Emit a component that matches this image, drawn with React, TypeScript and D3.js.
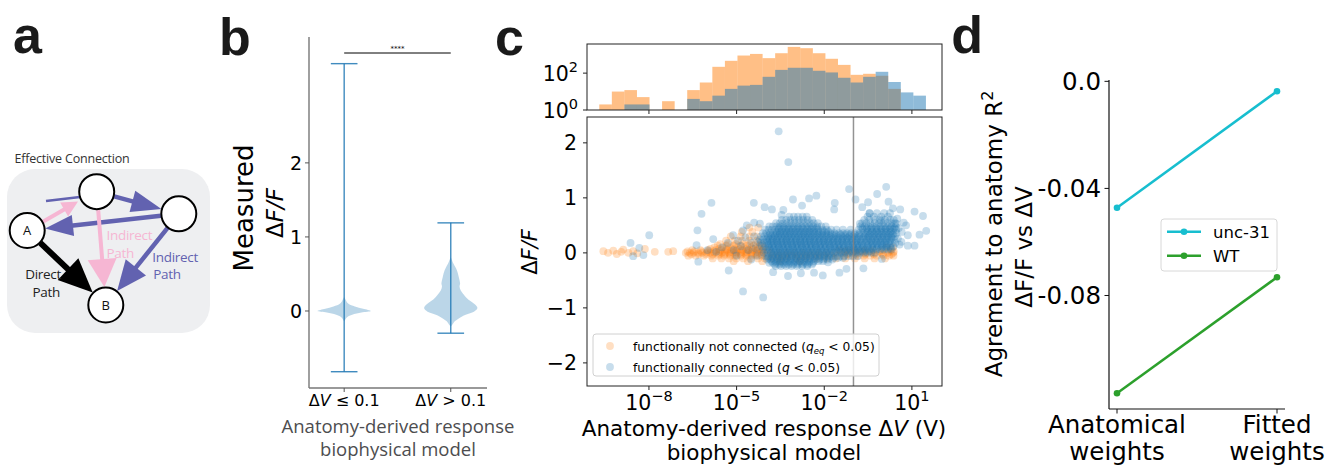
import React from 'react';
import * as d3 from 'd3';

const MPL = '"DejaVu Sans", sans-serif';
const ILL = '"Open Sans", "Noto Sans", sans-serif';
const C0 = '#1f77b4';
const C1 = '#ff7f0e';

// ---------- panel b: violin profiles (dF/F value, relative half width) ----------
const lowDff = [-0.14, -0.11, -0.08, -0.05, -0.02, 0, 0.03, 0.06, 0.1, 0.15, 0.19];
const lowWidth = [0, 0.05, 0.12, 0.3, 0.65, 1.0, 0.71, 0.4, 0.15, 0.06, 0];
const highDff = [-0.21, -0.19, -0.14, -0.1, -0.05, -0.01, 0.04, 0.09, 0.13, 0.19, 0.28, 0.33, 0.37, 0.46, 0.55, 0.64, 0.73];
const highWidth = [0, 0.05, 0.15, 0.3, 0.56, 0.87, 1.0, 0.9, 0.75, 0.56, 0.37, 0.33, 0.35, 0.3, 0.23, 0.1, 0];
const violinMin = [-0.82, -0.3];
const violinMax = [3.34, 1.19];
const violinTicks = [0, 1, 2];

// ---------- panel c: histogram (log10 bin edges, counts) ----------
const binEdgesExp = [-9.7, -9.27, -8.84, -8.41, -7.98, -7.55, -7.12, -6.69, -6.26, -5.83, -5.4, -4.97, -4.54, -4.11, -3.68, -3.25, -2.82, -2.39, -1.96, -1.53, -1.1, -0.67, -0.24, 0.19, 0.62, 1.05, 1.48];
const histNotConn = [2, 10, 12, 5, 0, 3, 0, 12, 31, 220, 465, 900, 1100, 650, 1200, 2650, 2250, 1200, 600, 280, 81, 92, 72, 14, 0, 0];
const histConn = [0, 0, 2, 2, 0, 0, 0, 4, 3, 6, 14, 21, 23, 63, 150, 195, 195, 134, 109, 56, 31, 63, 118, 33, 9, 6];
const histTicksExp = [0, 2];
const xTicksExp = [-8, -5, -2, 1];
const scatTicks = [-2, -1, 0, 1, 2];

// ---------- panel c: scatter, [log10 dV, dF/F] ----------
const notConnLeft: [number, number][] = [
  [-9.56, 0.03], [-9.4, 0.0], [-9.22, 0.04], [-9.1, -0.02], [-8.95, 0.02], [-8.88, 0.06], [-8.7, 0.0],
  [-8.54, 0.03], [-8.4, -0.01], [-8.14, 0.07], [-7.8, 0.02], [-7.34, 0.02], [-7.17, 0.03],
];
// rows: [dF/F, list of log10 dV]
const notConnRows: [number, number[]][] = [
  [0.0, [-6.74, -6.6, -6.47, -6.31, -6.18, -6.03, -5.9, -5.76, -5.63, -5.5, -5.38, -5.25, -5.12, -5.0, -4.87, -4.74, -4.62, -4.49, -4.36, -4.23, -4.08, -3.82, -3.55, -3.28, -3.02, -2.74, -2.47, -2.2, -1.93, -1.66, -1.4, -1.13, -0.86, -0.59, -0.32, -0.06, 0.18, 0.36]],
  [-0.05, [-6.65, -6.4, -6.12, -5.86, -5.62, -5.43, -5.22, -5.04, -4.85, -4.67, -4.5, -4.32, -4.14, -3.96, -3.76, -3.55, -3.34, -3.12, -2.9, -2.67, -2.45, -2.22, -2.0, -1.77, -1.55, -1.32, -1.1, -0.87, -0.65, -0.42, -0.2, 0.03, 0.22, 0.37]],
  [0.05, [-6.52, -6.24, -5.97, -5.72, -5.53, -5.34, -5.16, -4.98, -4.8, -4.62, -4.45, -4.28, -4.11, -3.93, -1.48, -1.19, -0.9, -0.61, -0.31, -0.02, 0.27]],
  [0.025, [-6.68, -6.45, -6.2, -5.98, -5.78, -5.58, -5.4, -5.2, -5.02, -4.84, -4.66, -4.48, -4.3, -4.12, -1.3, -1.0, -0.7, -0.4, -0.1, 0.2, 0.38]],
  [-0.025, [-6.55, -6.3, -6.05, -5.82, -5.6, -5.41, -5.22, -5.03, -4.85, -4.67, -4.49, -4.31, -4.13, -1.2, -0.9, -0.6, -0.3, 0.0, 0.3]],
  [-0.1, [-5.82, -5.52, -5.26, -5.01, -4.77, -4.52, -4.27, -4.03, -3.8, -3.54, -3.28, -2.94, -2.6, -2.26, -1.92, -1.6, -1.28, -0.95, -0.62, -0.28, 0.08]],
  [0.07, [-5.9, -5.6, -5.35, -5.1, -4.88, -4.66, -4.44, -4.22]],
  [0.1, [-5.76, -5.46, -5.21, -4.96, -4.72, -4.49, -4.27, -4.06, 0.14, 0.35]],
  [0.13, [-5.65, -5.35, -5.1, -4.87, -4.64, -4.42, -4.2]],
  [0.16, [-5.56, -5.29, -5.03, -4.79, -4.56, -4.34, -4.13]],
  [0.22, [-5.36, -5.06, -4.81, -4.56, -4.31]],
  [0.3, [-5.2, -4.86, -4.56, -4.3]],
  [0.38, [-4.82, -4.46]],
  [0.46, [-4.56, -4.26]],
  [-0.15, [-5.1, -4.61, -4.12, -3.52, -2.82]],
];
const connSparse: [number, number][] = [
  [-3.56, 2.21], [-3.23, 1.65], [-5.86, 0.91], [-6.2, 0.71], [-6.34, 0.41], [-7.99, 0.32], [-8.63, 0.18],
  [-8.54, -0.06], [-8.19, -0.04], [-8.33, 0.09], [-6.37, 0.14], [-6.31, -0.16], [-5.27, -0.32], [-4.78, -0.7],
  [-4.09, -0.81], [-4.41, 0.91], [-4.04, 0.83], [-3.79, 0.79], [-3.07, 0.97], [-2.76, 0.86], [-2.52, 0.99],
  [-2.27, 1.04], [-1.64, 0.91], [-1.66, 0.79], [-1.15, 1.16], [-0.93, 0.97], [-0.7, 0.83], [-0.5, 0.92],
  [-0.19, 1.07], [0.12, 1.2], [0.2, 0.93], [0.35, 0.81], [0.6, 0.79], [1.09, 0.75], [1.38, 0.67], [1.49, 0.4],
  [1.26, 0.33], [1.09, 0.13], [0.86, 0.13], [0.64, 0.2], [-0.03, -0.11], [-0.66, -0.28], [-1.24, -0.29],
  [-1.48, -0.36], [-2.05, -0.41], [-2.35, -0.36], [-2.8, -0.37], [-3.24, -0.42], [-3.75, -0.35], [-1.87, -0.17],
  [-3.4, 0.78], [-3.46, 0.69], [-4.2, 0.53], [-4.78, 0.41], [-5.12, 0.32], [-0.78, 0.53], [-0.45, 0.72],
  [-0.05, 0.59], [0.47, 0.53], [0.8, 0.5], [0.86, 0.32], [0.52, 0.26], [0.55, 0.45], [0.65, 0.38], [0.72, 0.55],
  [0.58, 0.15], [0.5, 0.62],
  [-5.5, 0.1], [-5.3, 0.18], [-5.1, 0.05], [-4.95, 0.22], [-4.85, 0.12], [-4.7, 0.28], [-4.6, 0.05], [-4.5, 0.18],
  [-4.4, 0.3], [-4.35, 0.08], [-4.28, -0.05], [-4.25, 0.2], [-5.7, 0.02], [-5.0, -0.05], [-4.5, -0.12],
  [-6.0, 0.05], [-5.8, 0.25], [-4.65, 0.5], [-4.4, 0.55],
];
const connRows: [number, number[]][] = [
  [0.72, [-0.45, -0.2, 0.05, 0.25]],
  [0.66, [-3.2, -3.04, -2.9, -2.74, -2.6, -0.52, -0.3, -0.05, 0.18]],
  [0.6, [-3.45, -3.3, -3.15, -3.01, -2.86, -2.72, -2.57, -2.41, -0.63, -0.46, -0.28, -0.1, 0.08, 0.26, 0.38]],
  [0.54, [-3.65, -3.52, -3.4, -3.27, -3.14, -3.01, -2.88, -2.75, -2.62, -2.49, -2.36, -2.22, -0.7, -0.56, -0.42, -0.27, -0.13, 0.02, 0.16, 0.3, 0.42]],
  [0.48, [-3.88, -3.76, -3.63, -3.51, -3.4, -3.27, -3.15, -3.02, -2.9, -2.77, -2.64, -2.51, -2.38, -2.24, -2.1, -1.95, -0.76, -0.62, -0.49, -0.36, -0.22, -0.09, 0.05, 0.18, 0.31, 0.44]],
  [0.42, [-4.02, -3.9, -3.78, -3.67, -3.55, -3.43, -3.31, -3.2, -3.08, -2.95, -2.83, -2.71, -2.58, -2.46, -2.33, -2.2, -2.06, -1.92, -1.76, -1.58, -1.36, -1.1, -0.82, -0.69, -0.56, -0.43, -0.3, -0.17, -0.04, 0.09, 0.22, 0.35, 0.46]],
  [0.36, [-4.1, -3.98, -3.86, -3.75, -3.63, -3.52, -3.4, -3.29, -3.17, -3.05, -2.93, -2.81, -2.69, -2.57, -2.45, -2.32, -2.19, -2.06, -1.93, -1.79, -1.65, -1.5, -1.35, -1.22, -1.08, -0.94, -0.8, -0.67, -0.54, -0.41, -0.28, -0.15, -0.02, 0.11, 0.24, 0.37, 0.47]],
  [0.3, [-4.16, -4.04, -3.92, -3.81, -3.7, -3.58, -3.47, -3.35, -3.24, -3.12, -3.01, -2.89, -2.77, -2.66, -2.54, -2.42, -2.3, -2.17, -2.05, -1.92, -1.79, -1.66, -1.53, -1.4, -1.27, -1.14, -1.01, -0.88, -0.75, -0.62, -0.49, -0.36, -0.23, -0.1, 0.03, 0.16, 0.29, 0.42]],
  [0.24, [-4.2, -4.08, -3.97, -3.86, -3.74, -3.63, -3.52, -3.4, -3.29, -3.18, -3.06, -2.95, -2.83, -2.72, -2.6, -2.49, -2.37, -2.25, -2.13, -2.01, -1.89, -1.77, -1.64, -1.52, -1.39, -1.27, -1.14, -1.02, -0.89, -0.77, -0.64, -0.51, -0.39, -0.26, -0.13, 0.0, 0.13, 0.26, 0.39]],
  [0.18, [-4.18, -4.06, -3.95, -3.83, -3.72, -3.61, -3.49, -3.38, -3.27, -3.15, -3.04, -2.92, -2.81, -2.69, -2.58, -2.46, -2.34, -2.22, -2.1, -1.98, -1.86, -1.73, -1.61, -1.48, -1.36, -1.23, -1.1, -0.97, -0.85, -0.72, -0.59, -0.46, -0.33, -0.2, -0.07, 0.06, 0.19, 0.32, 0.43]],
  [0.12, [-4.14, -4.02, -3.91, -3.79, -3.68, -3.56, -3.45, -3.33, -3.22, -3.1, -2.99, -2.87, -2.76, -2.64, -2.52, -2.41, -2.29, -2.17, -2.05, -1.93, -1.8, -1.68, -1.55, -1.43, -1.3, -1.17, -1.04, -0.92, -0.79, -0.66, -0.53, -0.4, -0.27, -0.14, -0.01, 0.12, 0.25, 0.37]],
  [0.06, [-4.1, -3.98, -3.87, -3.75, -3.64, -3.52, -3.41, -3.29, -3.18, -3.06, -2.95, -2.83, -2.71, -2.6, -2.48, -2.36, -2.24, -2.12, -2.0, -1.87, -1.75, -1.62, -1.5, -1.37, -1.24, -1.11, -0.98, -0.86, -0.73, -0.6, -0.47, -0.34, -0.21, -0.08, 0.05, 0.18, 0.3]],
  [0.0, [-4.06, -3.94, -3.83, -3.71, -3.6, -3.48, -3.37, -3.25, -3.14, -3.02, -2.91, -2.79, -2.67, -2.55, -2.43, -2.31, -2.19, -2.07, -1.94, -1.82, -1.69, -1.56, -1.43, -1.3, -1.17, -1.04, -0.91, -0.78, -0.65, -0.52, -0.39, -0.26]],
  [-0.06, [-4.02, -3.9, -3.79, -3.67, -3.56, -3.44, -3.33, -3.21, -3.1, -2.98, -2.86, -2.74, -2.62, -2.5, -2.38, -2.26, -2.13, -2.0, -1.87, -1.74, -1.61, -1.47, -1.33, -1.18, -1.02, -0.85]],
  [-0.12, [-3.96, -3.84, -3.73, -3.61, -3.5, -3.38, -3.27, -3.15, -3.03, -2.91, -2.79, -2.67, -2.55, -2.42, -2.29, -2.16, -2.02, -1.88, -1.72]],
  [-0.18, [-3.88, -3.76, -3.64, -3.52, -3.4, -3.28, -3.16, -3.04, -2.91, -2.78, -2.65, -2.52, -2.38]],
  [-0.24, [-3.66, -3.48, -3.3, -3.12, -2.94, -2.76, -2.58]],
  // denser core
  [0.45, [-3.55, -3.38, -3.22, -3.06, -2.9, -2.74, -2.58, -2.42, -2.26, -0.7, -0.54, -0.38, -0.22, -0.06, 0.1, 0.26, 0.4]],
  [0.39, [-3.62, -3.46, -3.3, -3.14, -2.98, -2.82, -2.66, -2.5, -2.34, -2.18, -2.02, -1.86, -0.52, -0.36, -0.2, -0.04, 0.12, 0.28]],
  [0.33, [-3.85, -3.68, -3.52, -3.36, -3.2, -3.04, -2.88, -2.72, -2.56, -2.4, -2.24, -2.08, -1.92, -1.76, -1.6, -1.44, -1.28, -1.12, -0.96, -0.8, -0.6, -0.44, -0.28, -0.12, 0.04, 0.2, 0.34]],
  [0.27, [-3.92, -3.76, -3.6, -3.44, -3.28, -3.12, -2.96, -2.8, -2.64, -2.48, -2.32, -2.16, -2.0, -1.84, -1.68, -1.52, -1.36, -1.2, -1.04, -0.88, -0.66, -0.5, -0.34, -0.18, -0.02, 0.14, 0.3]],
  [0.21, [-3.95, -3.79, -3.63, -3.47, -3.31, -3.15, -2.99, -2.83, -2.67, -2.51, -2.35, -2.19, -2.03, -1.87, -1.71, -1.55, -1.39, -1.23, -1.07, -0.91, -0.75, -0.56, -0.4, -0.24, -0.08, 0.08, 0.24]],
  [0.15, [-3.9, -3.74, -3.58, -3.42, -3.26, -3.1, -2.94, -2.78, -2.62, -2.46, -2.3, -2.14, -1.98, -1.82, -1.66, -1.5, -1.34, -1.18, -1.02, -0.86, -0.7, -0.5, -0.34, -0.18, -0.02, 0.14]],
  [0.09, [-3.88, -3.72, -3.56, -3.4, -3.24, -3.08, -2.92, -2.76, -2.6, -2.44, -2.28, -2.12, -1.96, -1.8, -1.64, -1.48, -1.32, -1.16, -1.0, -0.84, -0.68, -0.52, -0.36, -0.2, -0.04, 0.12, 0.28]],
  [0.03, [-3.82, -3.66, -3.5, -3.34, -3.18, -3.02, -2.86, -2.7, -2.54, -2.38, -2.22, -2.06, -1.9, -1.74, -1.58, -1.42, -1.26, -1.1, -0.94, -0.78, -0.62, -0.46]],
  [-0.03, [-3.75, -3.59, -3.43, -3.27, -3.11, -2.95, -2.79, -2.63, -2.47, -2.31, -2.15, -1.99, -1.83]],
  [-0.09, [-3.92, -3.76, -3.6, -3.44, -3.28, -3.12, -2.96, -2.8, -2.64, -2.48, -2.32, -2.16, -2.0, -1.84, -1.68, -1.52, -1.36]],
  [-0.15, [-3.8, -3.64, -3.48, -3.32, -3.16, -3.0, -2.84, -2.68, -2.52, -2.36, -2.2, -2.04]],
  [-0.21, [-3.7, -3.54, -3.38, -3.22, -3.06, -2.9, -2.74, -2.58, -2.42]],
];

// ---------- panel d ----------
const weightTypes = [['Anatomical', 'weights'], ['Fitted', 'weights']];
const unc31R2 = [-0.0472, -0.0037];
const wtR2 = [-0.1165, -0.0732];
const dTicks = [0, -0.04, -0.08];
const dTickLabels = ['0.0', '-0.04', '-0.08'];

type Pt = { dv: number; dff: number };
const fromPairs = (p: [number, number][]): Pt[] => p.map(([e, f]) => ({ dv: 10 ** e, dff: f }));
const fromRows = (rows: [number, number[]][]): Pt[] =>
  rows.flatMap(([f, es]) => es.map((e) => ({ dv: 10 ** e, dff: f })));

function Arrow({ x1, y1, x2, y2, w, hl, hw, color }: any) {
  const dx = x2 - x1, dy = y2 - y1, L = Math.hypot(dx, dy);
  const ux = dx / L, uy = dy / L;
  const bx = x2 - ux * hl, by = y2 - uy * hl;
  return (
    <g>
      <line x1={x1} y1={y1} x2={bx + ux * 2} y2={by + uy * 2} stroke={color} strokeWidth={w} />
      <polygon
        points={`${x2},${y2} ${bx - uy * hw / 2},${by + ux * hw / 2} ${bx + uy * hw / 2},${by - ux * hw / 2}`}
        fill={color}
      />
    </g>
  );
}

export default function App() {
  // panel b
  const xB = d3.scaleLinear().domain([-0.33, 1.34]).range([309, 487]);
  const yB = d3.scaleLinear().domain([-1.04, 3.7]).range([388, 37]);
  const violinPath = (dff: number[], wid: number[], i: number) =>
    d3.area<number>()
      .y((d) => yB(d))
      .x0((_, k) => xB(i - wid[k] * 0.25))
      .x1((_, k) => xB(i + wid[k] * 0.25))
      .curve(d3.curveCatmullRom)(dff) || '';

  // panel c
  const xC = d3.scaleLog().domain([10 ** -10.12, 10 ** 2.03]).range([587, 942]);
  const yH = d3.scaleLog().domain([1, 3800]).range([110, 44]);
  const yS = d3.scaleLinear().domain([-2.42, 2.47]).range([386, 117]);
  const orangePts = [...fromPairs(notConnLeft), ...fromRows(notConnRows)];
  const bluePts = [...fromPairs(connSparse), ...fromRows(connRows)];
  const bars = (counts: number[]) =>
    counts.map((c, i) => ({ c, x0: xC(10 ** binEdgesExp[i]), x1: xC(10 ** binEdgesExp[i + 1]) })).filter((b) => b.c > 0);

  // panel d
  const xD = d3.scaleLinear().domain([-0.05, 1.05]).range([1109, 1285]);
  const yD = d3.scaleLinear().domain([-0.1224, 0.0005]).range([409, 80]);
  const lineD = d3.line<number>().x((_, i) => xD(i)).y((d) => yD(d));

  const pink = '#f6b6d3';
  const purple = '#6262b0';

  return (
    <svg width={1336} height={471} style={{ position: 'absolute', left: 0, top: 0, background: '#fff' }}>
      {/* panel letters */}
      <g fontFamily='"Liberation Sans", Arial, sans-serif' fontWeight={900} fontSize={52} fill="#1a1a1a">
        <text x={13} y={53}>a</text>
        <text x={219} y={55}>b</text>
        <text x={495} y={55}>c</text>
        <text x={983} y={53} textAnchor="end">d</text>
      </g>

      {/* ---------- panel a ---------- */}
      <g fontFamily={ILL}>
        <text x={14.5} y={163} fontSize={12.5} fill="#333" letterSpacing={-0.2}>Effective Connection</text>
        <rect x={7} y={169} width={203} height={164} rx={28} fill="#eeeff1" />
        <Arrow x1={42.9} y1={221.7} x2={78} y2={201.5} w={4} hl={16} hw={16} color={pink} />
        <line x1={46} y1={201} x2={80} y2={197} stroke={purple} strokeWidth={2.5} />
        <Arrow x1={114.1} y1={196.4} x2={161.4} y2={209.1} w={4.5} hl={30} hw={22} color={purple} />
        <Arrow x1={160.9} y1={215.8} x2={45.1} y2={228.5} w={4.5} hl={28} hw={21} color={purple} />
        <Arrow x1={98.2} y1={210.1} x2={104.4} y2={287.1} w={4} hl={28} hw={29} color={pink} />
        <Arrow x1={167.6} y1={227.9} x2={117.1} y2={290.9} w={4.5} hl={30} hw={26} color={purple} />
        <Arrow x1={40.3} y1={242.9} x2={92.7} y2={292.6} w={6} hl={34} hw={30} color="#000" />
        {[[96.7, 191.7], [178.8, 213.8], [27.2, 230.5], [105.8, 305]].map(([cx, cy], i) => (
          <circle key={i} cx={cx} cy={cy} r={17.5} fill="#fff" stroke="#000" strokeWidth={2} />
        ))}
        <text x={27.2} y={235} fontSize={13} textAnchor="middle" fill="#111">A</text>
        <text x={105.8} y={309.5} fontSize={13} textAnchor="middle" fill="#111">B</text>
        <g fontSize={13.5} letterSpacing={-0.3}>
          <text x={106.5} y={240} fill={pink}>Indirect</text>
          <text x={106.5} y={258} fill={pink}>Path</text>
          <text x={152.3} y={261.5} fill={purple}>Indirect</text>
          <text x={153.3} y={278.5} fill={purple}>Path</text>
          <text x={61} y={279.3} fill="#222" textAnchor="end">Direct</text>
          <text x={60} y={296.7} fill="#222" textAnchor="end">Path</text>
        </g>
      </g>

      {/* ---------- panel b ---------- */}
      <g fontFamily={MPL}>
        {[lowDff, highDff].map((dff, i) => (
          <path key={i} d={violinPath(dff, i === 0 ? lowWidth : highWidth, i)} fill={C0} fillOpacity={0.3} />
        ))}
        {violinMin.map((mn, i) => (
          <g key={i} stroke={C0} strokeWidth={1.4} strokeOpacity={0.85}>
            <line x1={xB(i)} x2={xB(i)} y1={yB(mn)} y2={yB(violinMax[i])} />
            <line x1={xB(i - 0.125)} x2={xB(i + 0.125)} y1={yB(mn)} y2={yB(mn)} />
            <line x1={xB(i - 0.125)} x2={xB(i + 0.125)} y1={yB(violinMax[i])} y2={yB(violinMax[i])} />
          </g>
        ))}
        <line x1={309} x2={309} y1={37} y2={388} stroke="#777" strokeWidth={1.4} />
        <line x1={309} x2={487} y1={388} y2={388} stroke="#777" strokeWidth={1.4} />
        {violinTicks.map((t) => (
          <g key={t}>
            <line x1={305} x2={309} y1={yB(t)} y2={yB(t)} stroke="#555" />
            <text x={302} y={yB(t) + 7} fontSize={19} textAnchor="end">{t}</text>
          </g>
        ))}
        {[0, 1].map((i) => (
          <line key={i} x1={xB(i)} x2={xB(i)} y1={388} y2={392} stroke="#555" />
        ))}
        <text x={xB(0)} y={406} fontSize={16} textAnchor="middle">
          Δ<tspan fontStyle="italic">V</tspan> ≤ 0.1
        </text>
        <text x={xB(1)} y={406} fontSize={16} textAnchor="middle">
          Δ<tspan fontStyle="italic">V</tspan> &gt; 0.1
        </text>
        <line x1={xB(0)} x2={xB(1)} y1={53} y2={53} stroke="#000" strokeWidth={1} />
        <text x={(xB(0) + xB(1)) / 2} y={51} fontSize={7} textAnchor="middle">****</text>
        <text transform="translate(253,208) rotate(-90)" fontSize={26} textAnchor="middle">Measured</text>
        <text transform="translate(283,213) rotate(-90)" fontSize={23} textAnchor="middle" fontStyle="italic">
          <tspan fontStyle="normal">Δ</tspan>F/F
        </text>
        <g fontFamily={ILL} fill="#4d4d4f" fontSize={18.5} textAnchor="middle">
          <text x={398} y={433}>Anatomy-derived response</text>
          <text x={398} y={456}>biophysical model</text>
        </g>
      </g>

      {/* ---------- panel c ---------- */}
      <g fontFamily={MPL}>
        {/* histogram */}
        {bars(histNotConn).map((b, i) => (
          <rect key={'o' + i} x={b.x0} width={b.x1 - b.x0} y={yH(b.c)} height={110 - yH(b.c)} fill={C1} fillOpacity={0.5} />
        ))}
        {bars(histConn).map((b, i) => (
          <rect key={'b' + i} x={b.x0} width={b.x1 - b.x0} y={yH(b.c)} height={110 - yH(b.c)} fill={C0} fillOpacity={0.5} />
        ))}
        <rect x={587} y={44} width={355} height={66} fill="none" stroke="#222" strokeWidth={1} />
        {histTicksExp.map((e) => (
          <g key={e}>
            <line x1={583} x2={587} y1={yH(10 ** e)} y2={yH(10 ** e)} stroke="#222" />
            <text x={578} y={yH(10 ** e) + 7.5} fontSize={20.5} textAnchor="end">
              10<tspan fontSize={14.5} dy={-9}>{e}</tspan>
            </text>
          </g>
        ))}
        {xTicksExp.map((e) => (
          <line key={e} x1={xC(10 ** e)} x2={xC(10 ** e)} y1={110} y2={114} stroke="#222" />
        ))}

        {/* scatter */}
        {orangePts.map((p, i) => (
          <circle key={'op' + i} cx={xC(p.dv)} cy={yS(p.dff)} r={3.9} fill={C1} fillOpacity={0.25} />
        ))}
        {bluePts.map((p, i) => (
          <circle key={'bp' + i} cx={xC(p.dv)} cy={yS(p.dff)} r={3.9} fill={C0} fillOpacity={0.25} />
        ))}
        <line x1={xC(0.1)} x2={xC(0.1)} y1={117} y2={386} stroke="#808080" strokeWidth={1.5} strokeOpacity={0.85} />
        <rect x={587} y={117} width={355} height={269} fill="none" stroke="#222" strokeWidth={1} />
        {scatTicks.map((t) => (
          <g key={t}>
            <line x1={583} x2={587} y1={yS(t)} y2={yS(t)} stroke="#222" />
            <text x={577} y={yS(t) + 7.5} fontSize={20.5} textAnchor="end">{t < 0 ? '−' + -t : t}</text>
          </g>
        ))}
        {xTicksExp.map((e) => (
          <g key={e}>
            <line x1={xC(10 ** e)} x2={xC(10 ** e)} y1={386} y2={390} stroke="#222" />
            <text x={xC(10 ** e)} y={410} fontSize={20.5} textAnchor="middle">
              10<tspan fontSize={14.5} dy={-9}>{e < 0 ? '−' + -e : e}</tspan>
            </text>
          </g>
        ))}
        <g>
          <rect x={593} y={334} width={286} height={42} rx={3} fill="#fff" fillOpacity={0.8} stroke="#d0d0d0" />
          <circle cx={610} cy={346} r={3.9} fill={C1} fillOpacity={0.25} />
          <circle cx={610} cy={367} r={3.9} fill={C0} fillOpacity={0.25} />
          <text x={633} y={350.5} fontSize={12.3}>
            functionally not connected (<tspan fontStyle="italic">q</tspan>
            <tspan fontStyle="italic" fontSize={8.5} dy={3}>eq</tspan>
            <tspan dy={-3}> &lt; 0.05)</tspan>
          </text>
          <text x={633} y={371.5} fontSize={12.3}>
            functionally connected (<tspan fontStyle="italic">q</tspan> &lt; 0.05)
          </text>
        </g>
        <text transform="translate(537,252) rotate(-90)" fontSize={21} textAnchor="middle" fontStyle="italic">
          <tspan fontStyle="normal">Δ</tspan>F/F
        </text>
        <text x={764} y={436} fontSize={21.5} textAnchor="middle">
          Anatomy-derived response Δ<tspan fontStyle="italic">V</tspan> (V)
        </text>
        <text x={764} y={460} fontSize={21.5} textAnchor="middle">biophysical model</text>
      </g>

      {/* ---------- panel d ---------- */}
      <g fontFamily={MPL}>
        <path d={lineD(unc31R2) || ''} fill="none" stroke="#17becf" strokeWidth={2.5} />
        <path d={lineD(wtR2) || ''} fill="none" stroke="#2ca02c" strokeWidth={2.5} />
        {unc31R2.map((v, i) => <circle key={'u' + i} cx={xD(i)} cy={yD(v)} r={3.3} fill="#17becf" />)}
        {wtR2.map((v, i) => <circle key={'w' + i} cx={xD(i)} cy={yD(v)} r={3.3} fill="#2ca02c" />)}
        <line x1={1109} x2={1109} y1={80} y2={409} stroke="#111" strokeWidth={1.2} />
        <line x1={1109} x2={1285} y1={409} y2={409} stroke="#111" strokeWidth={1.2} />
        {dTicks.map((t, i) => (
          <g key={t}>
            <line x1={1104.5} x2={1109} y1={yD(t)} y2={yD(t)} stroke="#111" />
            <text x={1101} y={yD(t) + 9} fontSize={24.5} textAnchor="end">{dTickLabels[i]}</text>
          </g>
        ))}
        {weightTypes.map((lab, i) => (
          <g key={i}>
            <line x1={xD(i)} x2={xD(i)} y1={409} y2={413.5} stroke="#111" />
            <text x={xD(i)} y={433} fontSize={24.5} textAnchor="middle">{lab[0]}</text>
            <text x={xD(i)} y={460} fontSize={24.5} textAnchor="middle">{lab[1]}</text>
          </g>
        ))}
        <text transform="translate(1002,234) rotate(-90)" fontSize={23} textAnchor="middle">
          Agrement to anatomy R<tspan fontSize={16} dy={-9}>2</tspan>
        </text>
        <text transform="translate(1032,247) rotate(-90)" fontSize={23} textAnchor="middle">ΔF/F vs ΔV</text>
        <rect x={1161} y={219} width={116} height={52} rx={3} fill="#fff" fillOpacity={0.8} stroke="#d8d8d8" />
        {[['unc-31', '#17becf', 231.7], ['WT', '#2ca02c', 255.7]].map(([lab, col, y]: any) => (
          <g key={lab}>
            <line x1={1167} x2={1201} y1={y} y2={y} stroke={col} strokeWidth={2.5} />
            <circle cx={1184} cy={y} r={3.3} fill={col} />
            <text x={1213} y={y + 6} fontSize={16.5}>{lab}</text>
          </g>
        ))}
      </g>
    </svg>
  );
}
